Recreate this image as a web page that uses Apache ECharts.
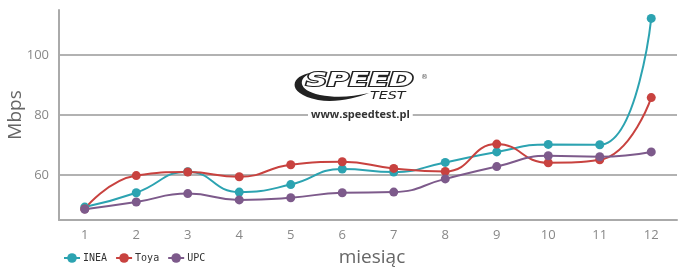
<!DOCTYPE html>
<html><head><meta charset="utf-8">
<script src="https://cdn.jsdelivr.net/npm/echarts@6/dist/echarts.min.js"></script>
<style>html,body{margin:0;padding:0;background:#fff}#c{width:698px;height:272px}</style>
</head><body><div id="c"></div>
<script>
var months = ['1','2','3','4','5','6','7','8','9','10','11','12'];
var yTicks = [60, 80, 100];
var inea = [49.3, 54.1, 61.1, 54.3, 56.8, 62.0, 61.0, 64.2, 67.7, 70.2, 70.1, 112.2];
var toya = [48.7, 59.8, 61.0, 59.4, 63.4, 64.4, 62.2, 61.2, 70.3, 64.1, 65.1, 85.8];
var upc  = [48.6, 51.0, 53.8, 51.7, 52.4, 54.1, 54.3, 58.7, 62.8, 66.4, 66.1, 67.7];
var seriesNames = ['INEA', 'Toya', 'UPC'];
var colors = ['#2ca3b1', '#c8423f', '#7d5a8b'];
var font = '"Open Sans", "Noto Sans", sans-serif';

var Swoosh = echarts.graphic.extendShape({
  shape: {},
  buildPath: function (ctx) {
    ctx.moveTo(311, 73);
    ctx.bezierCurveTo(292, 75, 284, 93, 318, 100);
    ctx.bezierCurveTo(336, 103, 356, 98, 369, 93);
    ctx.bezierCurveTo(352, 97, 336, 98, 320, 95);
    ctx.bezierCurveTo(297, 90, 298, 78, 311, 73);
    ctx.closePath();
  }
});
echarts.graphic.registerShape('swoosh', Swoosh);

function mk(name, data, color) {
  return {
    name: name, type: 'line', data: data, smooth: 0.5,
    symbol: 'circle', symbolSize: 9, z: 3,
    itemStyle: { color: color },
    lineStyle: { color: color, width: 2 }
  };
}

var chart = echarts.init(document.getElementById('c'));
chart.setOption({
  animation: false,
  backgroundColor: '#fff',
  grid: { left: 59, right: 21, top: 10, bottom: 52, outerBoundsMode: 'none', containLabel: false },
  legend: {
    left: 58, bottom: 4, itemWidth: 16, itemHeight: 12, itemGap: 8,
    textStyle: { fontFamily: '"DejaVu Sans Mono", monospace', fontSize: 10, color: '#333', padding: [0, 0, 0, -2] },
    data: seriesNames
  },
  xAxis: {
    type: 'category', data: months, boundaryGap: true,
    name: 'miesiąc', nameLocation: 'middle', nameGap: 28, nameMoveOverlap: false,
    nameTextStyle: { fontFamily: font, fontSize: 19, color: '#666', padding: [0, 0, 0, 8] },
    axisLine: { lineStyle: { color: '#aaa', width: 2 } },
    axisTick: { show: false },
    axisLabel: { fontFamily: font, fontSize: 13, color: '#888', margin: 9 },
    splitLine: { show: false }
  },
  yAxis: {
    type: 'value', min: 45, max: 115,
    name: 'Mbps', nameLocation: 'middle', nameGap: 34, nameMoveOverlap: false,
    nameTextStyle: { fontFamily: font, fontSize: 19, color: '#666' },
    axisLine: { show: true, lineStyle: { color: '#aaa', width: 2 } },
    axisTick: { show: false, customValues: yTicks },
    axisLabel: { fontFamily: font, fontSize: 13, color: '#888', margin: 10, customValues: yTicks },
    splitLine: { show: true, lineStyle: { color: '#b2b2b2', width: 2 } }
  },
  graphic: [
    { type: 'swoosh', z: 1, shape: {}, style: { fill: '#222' } },
    { type: 'text', z: 1, x: 306, y: 72, scaleX: 1.55, style: { text: 'SPEED', fontFamily: '"DejaVu Sans", sans-serif', fontWeight: 'bold', fontStyle: 'italic', fontSize: 19, fill: '#fff', stroke: '#222', lineWidth: 2.2 } },
    { type: 'text', z: 1, x: 370, y: 91, scaleX: 1.3, style: { text: 'TEST', fontFamily: '"DejaVu Sans", sans-serif', fontStyle: 'italic', fontSize: 11, fill: '#222' } },
    { type: 'text', z: 1, x: 421, y: 74, style: { text: '®', fontFamily: '"DejaVu Sans", sans-serif', fontSize: 7, fill: '#555' } },
    { type: 'text', z: 1, x: 308, y: 108, style: { text: 'www.speedtest.pl', fontFamily: '"Open Sans", sans-serif', fontWeight: 'bold', fontSize: 11, fill: '#333', backgroundColor: '#fff', padding: [1, 3] } }
  ],
  series: [
    mk(seriesNames[0], inea, colors[0]),
    mk(seriesNames[1], toya, colors[1]),
    mk(seriesNames[2], upc, colors[2])
  ]
});
</script></body></html>
